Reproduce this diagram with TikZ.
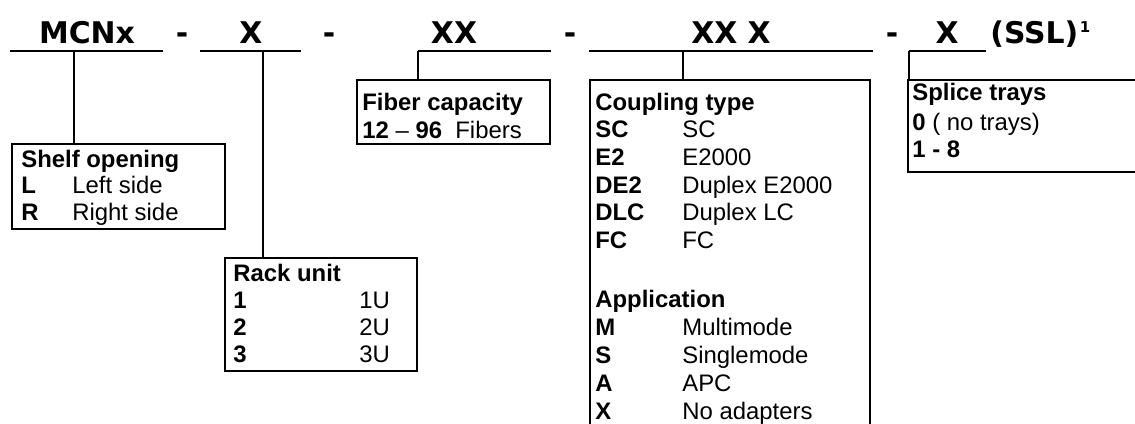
\documentclass[tikz,border=0pt]{standalone}
\usepackage{fontspec}
\setmainfont{Liberation Sans}
\newfontfamily\titlefont{DejaVu Sans}
\usetikzlibrary{positioning, fit}

\newcommand{\boxfont}{\fontsize{13.6}{16}\selectfont}

\begin{document}
\begin{tikzpicture}[
    x=0.02cm, y=-0.02cm,
    box/.style={draw, line width=1.1pt, inner sep=0pt},
    rule/.style={line width=1.1pt},
    part/.style={anchor=base, inner sep=0pt, font=\titlefont\fontsize{17}{20}\selectfont\bfseries},
    head/.style={anchor=base west, inner sep=0pt, font=\boxfont\bfseries},
    key/.style={head},
    val/.style={anchor=base west, inner sep=0pt, font=\boxfont},
]
    \useasboundingbox (0,0) rectangle (1135,423);

    % order code
    \node[part] (mcn) at (87,43) {MCNx};
    \node[part] (d1) at (182,43) {-};
    \node[part] (shelfx) at (251,43) {X};
    \node[part] (d2) at (329,43) {-};
    \node[part] (fibx) at (454,43) {XX};
    \node[part] (d3) at (570,43) {-};
    \node[part] (cplx) at (731,43) {XX X};
    \node[part] (d4) at (892,43) {-};
    \node[part] (trayx) at (947,43) {X};
    \node[part, anchor=base west] (ssl) at (990,43) {(SSL)\hspace{0.8pt}\raisebox{5.7pt}{\fontsize{8.5}{9}\selectfont 1}};

    \foreach \n/\xa/\xb in {1/10/163, 2/200/301, 3/418/551, 4/589/873, 5/909/986} {
        \coordinate (ul\n a) at (\xa,51);
        \coordinate (ul\n b) at (\xb,51);
        \draw[rule] (ul\n a) -- (ul\n b);
    }
    \coordinate (tap1) at (74,51);
    \coordinate (tap2) at (263,51);
    \coordinate (tap4) at (683,51);

    % boxes
    \node[box, fit={(12,144) (225,229)}] (shelf) {};
    \node[box, fit={(225,258) (417,371)}] (rack) {};
    \node[box, fit={(357,80) (550,144)}] (fiber) {};
    \node[box, fit={(590,80) (870,440)}] (coupling) {};
    \node[box, fit={(908,80) (1150,172)}] (splice) {};

    \draw[rule] (tap1) -- (tap1 |- shelf.north);
    \draw[rule] (tap2) -- (tap2 |- rack.north);
    \draw[rule] (ul3a) -- (ul3a |- fiber.north);
    \draw[rule] (tap4) -- (tap4 |- coupling.north);
    \draw[rule] (ul5a) -- (ul5a |- splice.north);

    % shelf opening
    \node[head] (shelfh) at (21,167) {Shelf opening};
    \foreach \k/\v [count=\i] in {L/Left side, R/Right side} {
        \node[key] (sk\i) at (21, 167+\i*26.5) {\k};
        \node[val] (sv\i) at (72, 167+\i*26.5) {\v};
    }

    % rack unit
    \node[head] (rackh) at (233,281) {Rack unit};
    \foreach \i in {1,2,3} {
        \node[key] (rk\i) at (233, 281+\i*27.3) {\i};
        \node[val] (rv\i) at (359, 281+\i*27.3) {\i U};
    }

    % fiber capacity
    \node[head] (fiberh) at (362,110) {Fiber capacity};
    \node[val] (fiberv) at (362,138) {\textbf{12} -- \textbf{96}~ Fibers};

    % coupling type and application
    \node[head] (cplh) at (595,110) {Coupling type};
    \foreach \k/\v [count=\i] in {SC/SC, E2/E2000, DE2/Duplex E2000, DLC/Duplex LC, FC/FC} {
        \node[key] (ck\i) at (595, 110+\i*27.7) {\k};
        \node[val] (cv\i) at (682, 110+\i*27.7) {\v};
    }
    \node[head] (apph) at (595,307) {Application};
    \foreach \k/\v [count=\i] in {M/Multimode, S/Singlemode, A/APC, X/No adapters} {
        \node[key] (ak\i) at (595, 307+\i*28) {\k};
        \node[val] (av\i) at (682, 307+\i*28) {\v};
    }

    % splice trays
    \node[head] (splh) at (912,100) {Splice trays};
    \node[val] (splv1) at (912,130) {\textbf{0} ( no trays)};
    \node[key] (splv2) at (912,157) {1 - 8};
\end{tikzpicture}
\end{document}
